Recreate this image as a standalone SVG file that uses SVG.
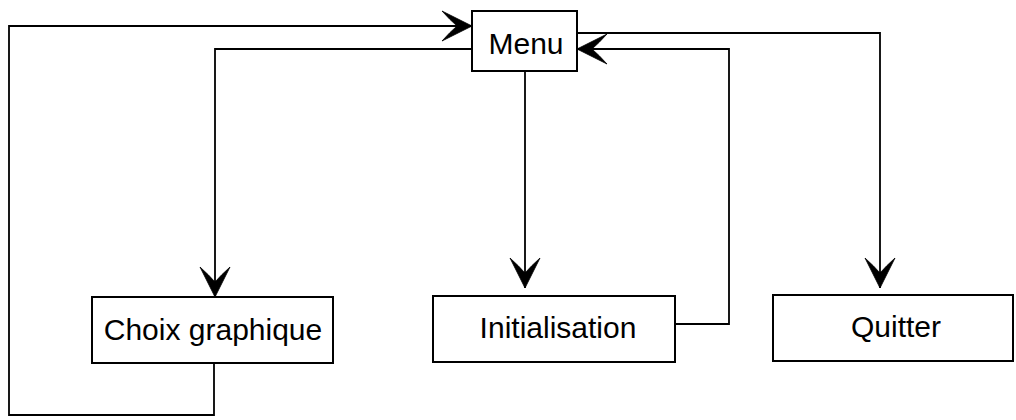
<svg xmlns="http://www.w3.org/2000/svg" width="1016" height="420" viewBox="0 0 1016 420">
<style>
.box{fill:#fff;stroke:#000;stroke-width:2}
.lbl{font-family:"Liberation Sans",Arial,sans-serif;font-size:30px;fill:#000;text-anchor:middle}
.edge{fill:none;stroke:#000;stroke-width:1.8}
</style>
<defs>
<marker id="arr" markerUnits="userSpaceOnUse" viewBox="-31 -17 32 34" refX="0" refY="0" markerWidth="32" markerHeight="34" orient="auto">
<path d="M0,0 L-30,-15 Q-22,-6 -15,0 Q-22,6 -30,15 Z" fill="#000" stroke="#000" stroke-width="0.8" stroke-linejoin="round"/>
</marker>
</defs>
<rect width="1016" height="420" fill="#fff"/>
<g id="connectors">
<path class="edge" d="M214,363 V415 H9 V26 H472" marker-end="url(#arr)"/>
<path class="edge" d="M472,49 H215 V297" marker-end="url(#arr)"/>
<path class="edge" d="M525,71 V288" marker-end="url(#arr)"/>
<path class="edge" d="M675,324 H729 V49 H577" marker-end="url(#arr)"/>
<path class="edge" d="M577,33 H880 V288" marker-end="url(#arr)"/>
</g>
<g id="menu">
<rect class="box" x="472" y="11" width="105" height="60"/>
<text class="lbl" x="526" y="54">Menu</text>
</g>
<g id="choix">
<rect class="box" x="92" y="297" width="241" height="66"/>
<text class="lbl" x="213" y="340">Choix graphique</text>
</g>
<g id="init">
<rect class="box" x="433" y="296" width="242" height="66"/>
<text class="lbl" x="558" y="338">Initialisation</text>
</g>
<g id="quitter">
<rect class="box" x="773" y="295" width="240" height="66"/>
<text class="lbl" x="896" y="337">Quitter</text>
</g>
</svg>
